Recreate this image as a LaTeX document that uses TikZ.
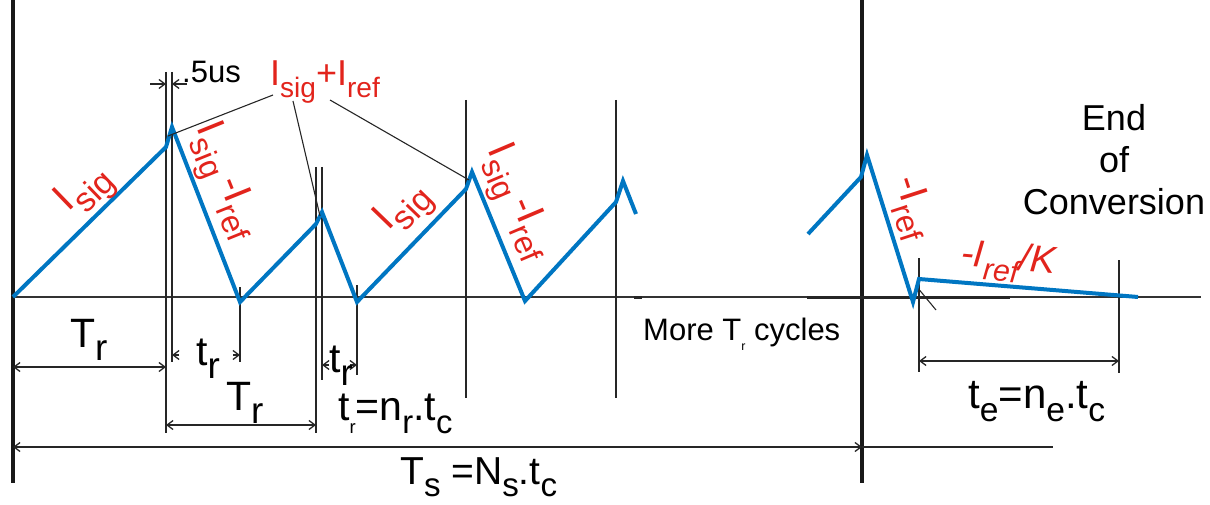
\documentclass[tikz,border=0pt]{standalone}
\usepackage{fontspec}
\setmainfont{Liberation Sans}
\usepackage{graphicx}
\usetikzlibrary{arrows.meta}
\definecolor{sigred}{RGB}{226,36,28}
\definecolor{rampblue}{RGB}{0,118,194}
\newcommand{\lo}[2][0.8]{\raisebox{-0.33em}{\scalebox{#1}{#2}}}

\begin{document}
\begin{tikzpicture}[x=1pt, y=-1pt,
    wave/.style={draw=rampblue, line width=4pt, line join=miter},
    bar/.style={line width=4pt, black!90},
    guide/.style={line width=1.1pt, black!85},
    axisline/.style={line width=1.6pt, black!80},
    dim/.style={{Straight Barb[length=6pt,width=9pt]}-{Straight Barb[length=6pt,width=9pt]}, line width=1.3pt, black!85},
    tip/.style={-{Straight Barb[length=6pt,width=9pt]}, line width=1.3pt, black!85},
    lbl/.style={inner sep=0pt, font=\fontsize{41}{44}\selectfont},
    redlbl/.style={inner sep=0pt, text=sigred, font=\fontsize{40}{44}\selectfont},
    note/.style={inner sep=0pt, font=\fontsize{31}{42}\selectfont},
]
\useasboundingbox (0,0) rectangle (1210,505);

% Frame bars and time axis
\draw[bar] (13,0) -- (13,483);
\draw[bar] (862,0) -- (862,483);
\coordinate (ax0) at (13,297); \coordinate (ax1) at (1201,297);
\draw[axisline] (ax0) -- (ax1);
\draw[line width=3pt, black!85] (807,297) -- (1010,297);
\draw[line width=3pt, black!85] (634,297) -- (642,297);

% Guide lines
\draw[guide] (166,72) -- (166,433);
\draw[guide] (172,72) -- (172,362);
\draw[guide] (240,287) -- (240,362);
\draw[guide] (316,167) -- (316,433);
\draw[guide] (322,167) -- (322,380);
\draw[guide] (357,285) -- (357,375);
\draw[guide] (466,100) -- (466,398);
\draw[guide] (616,100) -- (616,398);
\draw[guide] (919,258) -- (919,372);
\draw[guide] (1119,260) -- (1119,373);
\draw[guide] (917,287) -- (936,310);
\draw[guide] (862,447) -- (1053,447);

% Ramp points
\coordinate (a0) at (13,297);   \coordinate (a1) at (166,147);  \coordinate (a2) at (172,127);
\coordinate (a3) at (240,302);  \coordinate (a4) at (316,224);  \coordinate (a5) at (322,212);
\coordinate (a6) at (357,302);  \coordinate (a7) at (466,189);  \coordinate (a8) at (472,172);
\coordinate (a9) at (525,301);  \coordinate (a10) at (616,202); \coordinate (a11) at (623,181);
\coordinate (a12) at (636,214);
\coordinate (b0) at (808,234);  \coordinate (b1) at (861,177);  \coordinate (b2) at (867,155);
\coordinate (b3) at (913,302);  \coordinate (b4) at (919,279);  \coordinate (b5) at (1138,297);

\draw[wave] (a0) -- (a1) -- (a2) -- (a3) -- (a4) -- (a5) -- (a6) -- (a7) -- (a8) -- (a9) -- (a10) -- (a11) -- (a12);
\draw[wave] (b0) -- (b1) -- (b2) -- (b3) -- (b4) -- (b5);

% Red labels
\node[redlbl, rotate=44] (sig1) at (86,191) {I\lo[0.85]{sig}};
\node[redlbl, rotate=-68] (dif1) at (223,182) {I\lo{sig}\,-I\lo{ref}};
\node[redlbl, rotate=46] (sig2) at (405,209) {I\lo[0.85]{sig}};
\node[redlbl, rotate=-67] (dif2) at (515,203) {I\lo{sig}\,-I\lo{ref}};
\node[redlbl, rotate=-72] (neg) at (912,208) {-I\lo{ref}};
\node[redlbl, rotate=-5, font=\fontsize{38}{42}\selectfont\itshape] (negk) at (1008,262) {-I\lo{ref}/K};
\node[redlbl, anchor=base west, font=\fontsize{36}{40}\selectfont] (sum) at (270,86) {I\lo[0.78]{sig}+I\lo[0.78]{ref}};

% Leaders to the peaks
\coordinate (l1) at (273,95);  \coordinate (p1) at (168,136);
\coordinate (l2) at (293,101); \coordinate (p2) at (320,216);
\coordinate (l3) at (330,100); \coordinate (p3) at (469,180);
\draw[guide] (l1) -- (p1);
\draw[guide] (l2) -- (p2);
\draw[guide] (l3) -- (p3);

% Dimensions
\coordinate (h1) at (150,84); \coordinate (h2) at (166,84);
\coordinate (h3) at (187,84); \coordinate (h4) at (172,84);
\draw[tip] (h1) -- (h2);
\draw[tip] (h3) -- (h4);
\node[note, anchor=base west, font=\fontsize{31}{34}\selectfont] (half) at (182,83) {.5us};

\coordinate (d1a) at (13,367);  \coordinate (d1b) at (166,367);
\coordinate (d2a) at (166,425); \coordinate (d2b) at (316,425);
\coordinate (d3a) at (13,447);  \coordinate (d3b) at (862,447);
\coordinate (d4a) at (919,361); \coordinate (d4b) at (1119,361);
\draw[dim] (d1a) -- (d1b);
\draw[dim] (d2a) -- (d2b);
\draw[dim] (d3a) -- (d3b);
\draw[dim] (d4a) -- (d4b);

\coordinate (e1a) at (179,355); \coordinate (e1b) at (172,355);
\coordinate (e2a) at (233,355); \coordinate (e2b) at (240,355);
\coordinate (e3a) at (329,365); \coordinate (e3b) at (322,365);
\coordinate (e4a) at (350,365); \coordinate (e4b) at (357,365);
\draw[tip] (e1a) -- (e1b); \draw[tip] (e2a) -- (e2b);
\draw[tip] (e3a) -- (e3b); \draw[tip] (e4a) -- (e4b);

% Black labels
\node[lbl, anchor=base west] (Tr1) at (70,347) {T\lo[0.9]{r}};
\node[lbl, anchor=base west] (tr1) at (196,365) {t\lo[0.9]{r}};
\node[lbl, anchor=base west] (Tr2) at (226,410) {T\lo[0.9]{r}};
\node[lbl, anchor=base west] (tr2) at (329,372) {t\lo[0.9]{r}};
\node[lbl, anchor=base west] (treq) at (338,420) {t\lo[0.45]{r}=n\lo{r}.t\lo{c}};
\node[lbl, anchor=base west, font=\fontsize{39}{42}\selectfont] (Ts) at (400,484) {T\lo[0.85]{s} =N\lo[0.85]{s}.t\lo[0.85]{c}};
\node[lbl, anchor=base west, font=\fontsize{42}{46}\selectfont] (teq) at (968,408) {t\lo{e}=n\lo{e}.t\lo{c}};
\node[note, anchor=base west] (more) at (643,340) {More T\lo[0.4]{r} cycles};
\node[note, align=center, anchor=north, font=\fontsize{36}{42}\selectfont] (eoc) at (1114,104) {End\\of\\Conversion};
\end{tikzpicture}
\end{document}
